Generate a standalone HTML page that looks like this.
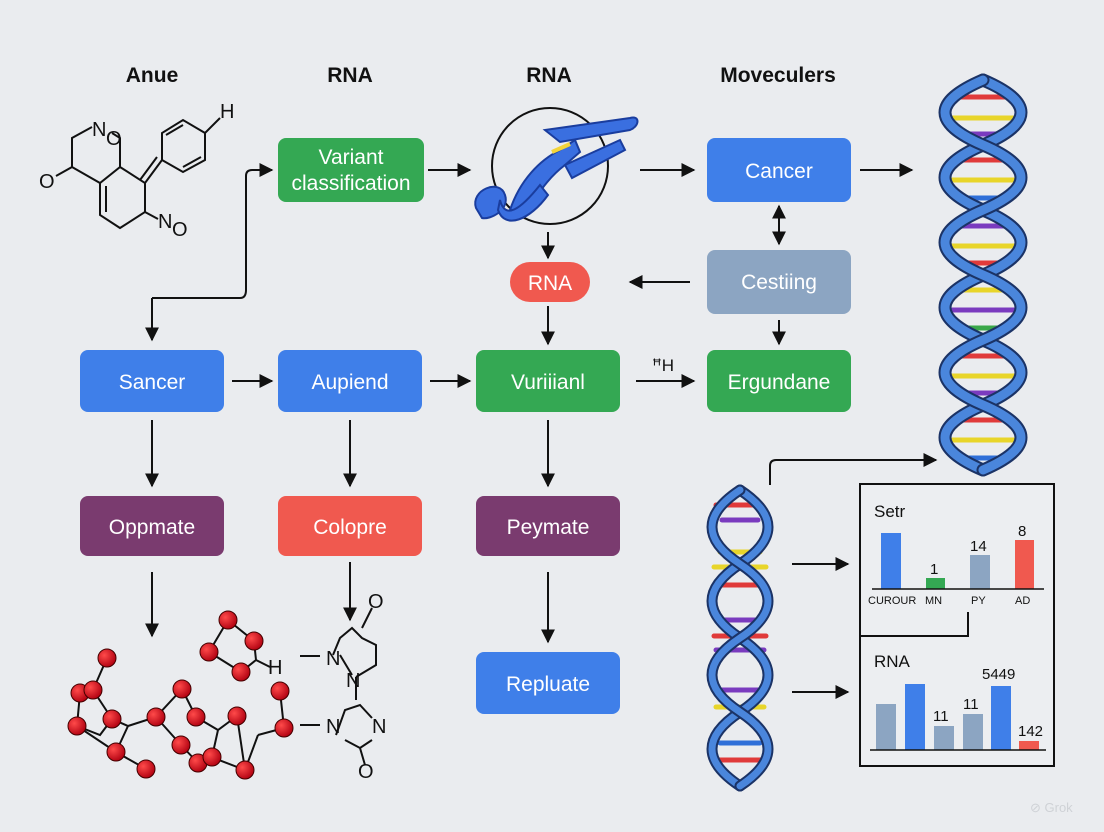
<!DOCTYPE html>
<html><head><meta charset="utf-8"><style>
html,body{margin:0;padding:0;background:#eaecef;}
svg{display:block;font-family:"Liberation Sans",sans-serif;}
.bx{font-size:21px;fill:#fff;text-anchor:middle;}
.hd{font-size:21px;font-weight:bold;fill:#111;text-anchor:middle;}
.ln{stroke:#111;stroke-width:2;fill:none;}
.at{fill:#111;font-size:20px;}
</style></head><body>
<svg width="1104" height="832" viewBox="0 0 1104 832" xmlns="http://www.w3.org/2000/svg">
<defs>
<marker id="a" viewBox="0 0 10 10" refX="9" refY="5" markerWidth="7" markerHeight="7" orient="auto-start-reverse"><path d="M0,0L10,5L0,10z" fill="#111"/></marker>
<radialGradient id="r" cx="0.35" cy="0.35" r="0.7"><stop offset="0" stop-color="#ff4a4a"/><stop offset="1" stop-color="#b00010"/></radialGradient>
</defs>
<rect width="1104" height="832" fill="#eaecef"/>
<text class="hd" x="152" y="82">Anue</text>
<text class="hd" x="350" y="82">RNA</text>
<text class="hd" x="549" y="82">RNA</text>
<text class="hd" x="778" y="82">Moveculers</text>
<g class="ln" stroke-width="2.2">
<path d="M92,127L72,138L72,167L56,176M72,167L100,183L120,167L120,138L112,133M100,183L100,215L120,228L145,212L145,183L120,167M106,186L106,212M145,212L158,219M145,183L162,160M140,180L157,157M162,160L162,133L183,120L205,133L205,160L183,172L162,160M166,135L183,125M201,157L183,167M205,133L220,118"/>
</g>
<text class="at" x="92" y="136">N</text><text class="at" x="106" y="145" font-size="16">O</text>
<text class="at" x="39" y="188">O</text>
<text class="at" x="220" y="118">H</text>
<text class="at" x="158" y="228">N</text><text class="at" x="172" y="236" font-size="16">O</text>
<rect x="278" y="138" width="146" height="64" rx="8" fill="#34a853"/>
<text class="bx" x="351" y="164">Variant</text><text class="bx" x="351" y="190">classification</text>
<rect x="707" y="138" width="144" height="64" rx="8" fill="#3f7fe9"/><text class="bx" x="779" y="178">Cancer</text>
<rect x="510" y="262" width="80" height="40" rx="20" fill="#f0594f"/><text class="bx" x="550" y="290">RNA</text>
<rect x="707" y="250" width="144" height="64" rx="8" fill="#8ca5c2"/><text class="bx" x="779" y="289">Cestiing</text>
<rect x="80" y="350" width="144" height="62" rx="8" fill="#3f7fe9"/><text class="bx" x="152" y="389">Sancer</text>
<rect x="278" y="350" width="144" height="62" rx="8" fill="#3f7fe9"/><text class="bx" x="350" y="389">Aupiend</text>
<rect x="476" y="350" width="144" height="62" rx="8" fill="#34a853"/><text class="bx" x="548" y="389">Vuriiianl</text>
<rect x="707" y="350" width="144" height="62" rx="8" fill="#34a853"/><text class="bx" x="779" y="389">Ergundane</text>
<rect x="80" y="496" width="144" height="60" rx="8" fill="#7a3b6f"/><text class="bx" x="152" y="534">Oppmate</text>
<rect x="278" y="496" width="144" height="60" rx="8" fill="#f0594f"/><text class="bx" x="350" y="534">Colopre</text>
<rect x="476" y="496" width="144" height="60" rx="8" fill="#7a3b6f"/><text class="bx" x="548" y="534">Peymate</text>
<rect x="476" y="652" width="144" height="62" rx="8" fill="#3f7fe9"/><text class="bx" x="548" y="691">Repluate</text>
<g class="ln" marker-end="url(#a)">
<path d="M428,170H470"/><path d="M640,170H694"/><path d="M860,170H912"/>
<path d="M548,232V258"/><path d="M690,282H630"/>
<path d="M548,306V344"/><path d="M779,320V344"/>
<path d="M232,381H272"/><path d="M430,381H470"/><path d="M636,381H694"/>
<path d="M152,420V486"/><path d="M350,420V486"/><path d="M548,420V486"/>
<path d="M152,572V636"/><path d="M350,562V620"/><path d="M548,572V642"/>
<path d="M152,298H240Q246,298 246,290V176Q246,170 252,170H272"/>
<path d="M770,485V466Q770,460 776,460H936"/>
<path d="M792,564H848"/><path d="M792,692H848"/>
<path d="M152,298V340"/>
</g>
<path class="ln" d="M779,206V244" marker-end="url(#a)" marker-start="url(#a)"/>
<text x="652" y="371" font-size="17" fill="#111">ꟸH</text>
<circle cx="550" cy="166" r="58" fill="none" stroke="#111" stroke-width="2"/>
<g stroke="#1a3d9e" stroke-width="2" fill="#3a6fe0">
<path d="M476,208C470,190 500,178 505,195C510,210 490,220 482,218Z"/>
<path d="M510,210C520,180 540,160 560,150L575,140L580,152L565,165C545,180 535,200 525,212Z"/>
<path d="M545,130L630,118C640,115 640,126 630,130L560,142Z"/>
<path d="M565,165L620,140L625,150L572,178Z"/>
<path d="M500,200C505,220 520,210 540,185L548,195C530,220 505,230 498,210Z"/>
</g>
<path d="M552,152L570,144" stroke="#f2d43a" stroke-width="4"/>
<g stroke="#111" stroke-width="2" fill="none">
<path d="M107,658L93,690L80,693L77,726L116,752L146,769M93,690L112,719L128,726L156,717L182,689L196,717L218,730L237,716L245,770L211,757L198,763L181,745L156,717M112,719L100,735L77,726M128,726L116,752M218,730L212,757M258,735L284,728L280,691M258,735L245,770M228,620L254,641L256,660L270,667M228,620L209,652L241,672L256,660"/>
<path d="M300,656H320M300,725H320M333,655L340,638L352,628L362,638L376,645L376,665L356,677M340,655L352,675M356,677V700M362,628L372,608M336,735L345,710L360,705L372,718M345,740L360,748L372,740M360,748L365,765"/>
</g>
<g fill="url(#r)" stroke="#400" stroke-width="1">
<circle cx="107" cy="658" r="9"/><circle cx="80" cy="693" r="9"/><circle cx="93" cy="690" r="9"/><circle cx="77" cy="726" r="9"/><circle cx="112" cy="719" r="9"/><circle cx="116" cy="752" r="9"/><circle cx="146" cy="769" r="9"/><circle cx="156" cy="717" r="9"/><circle cx="182" cy="689" r="9"/><circle cx="196" cy="717" r="9"/><circle cx="181" cy="745" r="9"/><circle cx="198" cy="763" r="9"/><circle cx="212" cy="757" r="9"/><circle cx="237" cy="716" r="9"/><circle cx="245" cy="770" r="9"/><circle cx="280" cy="691" r="9"/><circle cx="284" cy="728" r="9"/>
<circle cx="228" cy="620" r="9"/><circle cx="254" cy="641" r="9"/><circle cx="209" cy="652" r="9"/><circle cx="241" cy="672" r="9"/>
</g>
<text class="at" x="268" y="674">H</text>
<text class="at" x="326" y="665">N</text><text class="at" x="346" y="687">N</text>
<text class="at" x="368" y="608">O</text>
<text class="at" x="326" y="733">N</text><text class="at" x="372" y="733">N</text><text class="at" x="358" y="778">O</text>
<!-- big helix -->
<g fill="none" stroke-linecap="round">
<g stroke-width="5">
<path d="M958,97H1008" stroke="#e03a3a"/><path d="M950,118H1016" stroke="#e8d52a"/><path d="M956,134H1010" stroke="#7a3bbf"/>
<path d="M958,160H1008" stroke="#e03a3a"/><path d="M950,180H1016" stroke="#e8d52a"/><path d="M956,198H1010" stroke="#2f6fd8"/>
<path d="M958,226H1008" stroke="#7a3bbf"/><path d="M950,246H1016" stroke="#e8d52a"/><path d="M956,263H1010" stroke="#e03a3a"/>
<path d="M958,290H1008" stroke="#e8d52a"/><path d="M950,310H1016" stroke="#7a3bbf"/><path d="M956,328H1010" stroke="#3aa84a"/>
<path d="M958,356H1008" stroke="#e03a3a"/><path d="M950,376H1016" stroke="#e8d52a"/><path d="M956,393H1010" stroke="#7a3bbf"/>
<path d="M958,420H1008" stroke="#e03a3a"/><path d="M950,440H1016" stroke="#e8d52a"/><path d="M956,458H1010" stroke="#2f6fd8"/>
</g>
<path id="s1" d="M983,80Q1059,112.5 983,145T983,210T983,275T983,340T983,405T983,470" stroke="#1b3366" stroke-width="13"/>
<path d="M983,80Q1059,112.5 983,145T983,210T983,275T983,340T983,405T983,470" stroke="#4a86dc" stroke-width="9"/>
<path d="M983,80Q907,112.5 983,145T983,210T983,275T983,340T983,405T983,470" stroke="#1b3366" stroke-width="13"/>
<path d="M983,80Q907,112.5 983,145T983,210T983,275T983,340T983,405T983,470" stroke="#4a86dc" stroke-width="9"/>
</g>
<!-- small helix -->
<g fill="none" stroke-linecap="round">
<g stroke-width="5">
<path d="M716,505H762" stroke="#e03a3a"/><path d="M722,520H758" stroke="#7a3bbf"/><path d="M720,552H760" stroke="#e8d52a"/><path d="M714,567H766" stroke="#e8d52a"/><path d="M718,585H762" stroke="#e03a3a"/><path d="M720,620H760" stroke="#7a3bbf"/><path d="M714,636H766" stroke="#e03a3a"/><path d="M716,650H764" stroke="#7a3bbf"/><path d="M718,690H762" stroke="#7a3bbf"/><path d="M716,707H764" stroke="#e8d52a"/><path d="M720,743H760" stroke="#2f6fd8"/><path d="M716,760H764" stroke="#e03a3a"/>
</g>
<path d="M740,490Q796,527 740,564T740,638T740,712T740,786" stroke="#1b3366" stroke-width="11"/>
<path d="M740,490Q796,527 740,564T740,638T740,712T740,786" stroke="#4a86dc" stroke-width="7"/>
<path d="M740,490Q684,527 740,564T740,638T740,712T740,786" stroke="#1b3366" stroke-width="11"/>
<path d="M740,490Q684,527 740,564T740,638T740,712T740,786" stroke="#4a86dc" stroke-width="7"/>
</g>
<rect x="860" y="484" width="194" height="282" fill="#eceef1" stroke="#111" stroke-width="2"/>
<path d="M860,636H968V612" class="ln"/>
<text x="874" y="517" font-size="17" fill="#111">Setr</text>
<rect x="881" y="533" width="20" height="56" fill="#3f7fe9"/>
<rect x="926" y="578" width="19" height="11" fill="#34a853"/>
<rect x="970" y="555" width="20" height="34" fill="#8ca5c2"/>
<rect x="1015" y="540" width="19" height="49" fill="#f0594f"/>
<path d="M872,589H1044" stroke="#111" stroke-width="1.5"/>
<text x="930" y="574" font-size="15" fill="#111">1</text>
<text x="970" y="551" font-size="15" fill="#111">14</text>
<text x="1018" y="536" font-size="15" fill="#111">8</text>
<g font-size="11" fill="#111"><text x="868" y="604">CUROUR</text><text x="925" y="604">MN</text><text x="971" y="604">PY</text><text x="1015" y="604">AD</text></g>
<text x="874" y="667" font-size="17" fill="#111">RNA</text>
<rect x="876" y="704" width="20" height="46" fill="#8ca5c2"/>
<rect x="905" y="684" width="20" height="66" fill="#3f7fe9"/>
<rect x="934" y="726" width="20" height="24" fill="#8ca5c2"/>
<rect x="963" y="714" width="20" height="36" fill="#8ca5c2"/>
<rect x="991" y="686" width="20" height="64" fill="#3f7fe9"/>
<rect x="1019" y="741" width="20" height="9" fill="#f0594f"/>
<path d="M870,750H1046" stroke="#111" stroke-width="1.5"/>
<g font-size="15" fill="#111"><text x="933" y="721">11</text><text x="963" y="709">11</text><text x="982" y="679">5449</text><text x="1018" y="736">142</text></g>
<text x="1030" y="812" font-size="13" fill="#cfd2d6">⊘ Grok</text>
</svg>
</body></html>
